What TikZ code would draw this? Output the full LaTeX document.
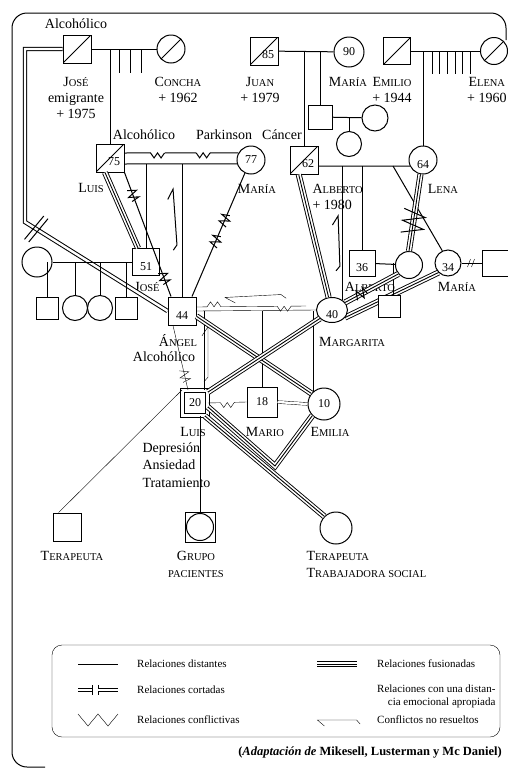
\documentclass[tikz,border=0pt]{standalone}
\usepackage{fontspec}
\setmainfont{Liberation Serif}
\usetikzlibrary{positioning, shapes.geometric, backgrounds, calc}
\newcommand{\sca}[2]{#1{\fontsize{10.5}{12}\selectfont\MakeUppercase{#2}}}
\newcommand{\numfont}{\fontsize{12}{13}\selectfont}

\begin{document}
\begin{tikzpicture}[
  x=1pt, y=-1pt, line width=1pt,
  male/.style={rectangle, draw, fill=white, minimum size=28pt, inner sep=0pt},
  female/.style={circle, draw, fill=white, minimum size=28pt, inner sep=0pt},
  dead/.style={path picture={\draw (path picture bounding box.south west)
                              -- (path picture bounding box.north east);}},
  numd/.style={label={[font=\numfont, inner sep=0pt, xshift=4pt, yshift=-4pt]center:#1}},
  numl/.style={label={[font=\numfont, inner sep=0pt, yshift=-5pt]center:#1}},
  lbl/.style={font=\fontsize{14}{16}\selectfont, align=center, inner sep=0pt},
  lgtxt/.style={font=\fontsize{11}{13}\selectfont, inner sep=0pt},
  fused/.style={line width=6pt, postaction={draw=white, line width=4.2pt},
                postaction={draw=black, line width=0.9pt}},
  apt/.style={double, double distance=2.4pt},
  zz/.pic={\fill[white] (-7,-1.3) rectangle (7,1.3);
           \draw (-7,0) -- (-3.5,5) -- (0,0) -- (3.5,5) -- (7,0);},
  zzx/.pic={\draw (-6,4) -- (-3,-5) -- (1,5) -- (4,-5) -- (6,3);},
  zzbig/.pic={\draw (-12,-11) -- (-6,11) -- (0,-11) -- (6,11) -- (12,-11);},
  cutm/.pic={\draw (-3,15) -- (1,-15) (2,15) -- (6,-15);},
  cuts/.pic={\draw (-4,4) -- (-1,-4) (0,4) -- (3,-4);},
  nores/.pic={\draw (-18,6) -- (-28,0) -- (28,0) -- (33,4);}
]
\useasboundingbox (0,0) rectangle (507,769);
%% outer frame
\draw[rounded corners=15pt] (45,767) -- (12,767) -- (12,13) -- (506,13) -- (506,40);

%% generation 1
\node[male, dead]                        (jose1)   at (77,49)  {};
\node[female, dead]                      (concha)  at (171,49) {};
\node[male, dead, numd=85]               (juan)    at (264,51) {};
\node[female, minimum size=30pt]         (maria90) at (349,52) {\numfont 90};
\node[male, dead, minimum size=27pt]     (emilio)  at (397,51) {};
\node[female, dead, minimum size=27pt]   (elena)   at (494,51) {};
\node[male, minimum size=24pt]           (tio)     at (320,117) {};
\node[female, minimum size=26pt]         (tia)     at (375,118) {};
\node[female, minimum size=25pt]         (prima)   at (349,144) {};

%% generation 2
\node[male, dead, numd=75]   (luis75)    at (110,158) {};
\node[female]                (maria77)   at (251,160) {\numfont 77};
\node[male, dead, numd=62]   (alberto62) at (304,160) {};
\node[female, numl=64]       (lena64)    at (423,160) {};

%% generation 3
\node[female, minimum size=30pt]         (esposa51)  at (37,262)  {};
\node[male, minimum size=27pt, numl=51]  (jose51)    at (146,262) {};
\node[male, minimum size=22pt]           (h1)        at (47,308)  {};
\node[female, minimum size=25pt]         (h2)        at (75,308)  {};
\node[female, minimum size=25pt]         (h3)        at (100,308) {};
\node[male, minimum size=22pt]           (h4)        at (126,308) {};
\node[male, numl=44]                     (angel44)   at (182,311) {};
\node[ellipse, draw, fill=white, minimum width=31pt, minimum height=25pt,
      inner sep=0pt, numl=40]            (margarita40) at (332,310) {};
\node[male, minimum size=26pt, numl=36]  (alberto36) at (362,263) {};
\node[female, minimum size=27pt]         (esposa36)  at (409,265) {};
\node[female, minimum size=26pt, numl=34] (maria34)  at (448,263) {};
\node[male, minimum size=26pt]           (pareja34)  at (495,263) {};
\node[male, minimum size=22pt]           (alberto_h) at (389,306) {};

%% generation 4
\node[male, double, double distance=3.4pt, minimum size=25pt] (luis20) at (195,403) {\numfont 20};
\node[male, minimum size=30pt]   (mario18)  at (262,402) {\numfont 18};
\node[female, minimum size=32pt] (emilia10) at (324,404) {\numfont 10};

%% generation 5
\node[male]                      (terap1) at (67,527) {};
\node[male, minimum size=30pt,
      path picture={\draw (path picture bounding box.center) circle (13.5pt);}] (grupo) at (200,527) {};
\node[female, minimum size=32pt] (terap2) at (336,528) {};

%% labels
\node[lbl] (alc1)        at (76,24)   {Alcohólico};
\node[lbl] (jose1_l)     at (76,98)   {\sca{J}{osé}\\emigrante\\+ 1975};
\node[lbl] (concha_l)    at (178,90)  {\sca{C}{oncha}\\+ 1962};
\node[lbl] (juan_l)      at (260,90)  {\sca{J}{uan}\\+ 1979};
\node[lbl] (maria90_l)   at (348,82)  {\sca{M}{aría}};
\node[lbl] (emilio_l)    at (392,90)  {\sca{E}{milio}\\+ 1944};
\node[lbl, anchor=east] (elena_l) at (507,90) {\sca{E}{lena}\\+ 1960};
\node[lbl] (alc2)        at (144,135) {Alcohólico};
\node[lbl] (park)        at (224,135) {Parkinson};
\node[lbl] (canc)        at (282,135) {Cáncer};
\node[lbl] (luis75_l)    at (91,188)  {\sca{L}{uis}};
\node[lbl] (maria77_l)   at (257,189) {\sca{M}{aría}};
\node[lbl, align=left, anchor=west] (alberto62_l) at (312,197) {\sca{A}{lberto}\\+ 1980};
\node[lbl] (lena_l)      at (443,189) {\sca{L}{ena}};
\node[lbl] (jose51_l)    at (147,287) {\sca{J}{osé}};
\node[lbl] (alberto36_l) at (370,287) {\sca{A}{lberto}};
\node[lbl] (maria34_l)   at (457,287) {\sca{M}{aría}};
\node[lbl] (angel_l)     at (178,341) {\sca{Á}{ngel}};
\node[lbl] (alc3)        at (164,357) {Alcohólico};
\node[lbl] (margarita_l) at (352,342) {\sca{M}{argarita}};
\node[lbl] (luis20_l)    at (193,432) {\sca{L}{uis}};
\node[lbl] (mario_l)     at (265,432) {\sca{M}{ario}};
\node[lbl] (emilia_l)    at (330,432) {\sca{E}{milia}};
\node[lbl, align=left, anchor=west, font=\fontsize{14}{17.5}\selectfont] (sintomas) at (142,465)
    {Depresión\\Ansiedad\\Tratamiento};
\node[lbl] (terap1_l)    at (72,556)  {\sca{T}{erapeuta}};
\node[lbl, font=\fontsize{14}{17}\selectfont] (grupo_l) at (196,564) {\sca{G}{rupo}\\\sca{}{pacientes}};
\node[lbl, align=left, anchor=west, font=\fontsize{14}{17}\selectfont] (terap2_l) at (306,564)
    {\sca{T}{erapeuta}\\\sca{T}{rabajadora social}};

%% generation 1 links
\draw (jose1) -- (concha);
\foreach \x in {119,130,141} \draw (\x,49) -- (\x,73);
\draw (luis75.north) -- (luis75.north |- jose1.east);
\draw (juan) -- (maria90);
\draw (alberto62.north) -- (alberto62.north |- juan.east);
\draw (tio.north) -- (tio.north |- juan.east);
\draw (tio) -- (tia);
\draw (prima.north) -- (prima.north |- tio.east);
\draw (emilio) -- (elena);
\draw (lena64.north) -- (lena64.north |- emilio.east);
\foreach \x in {432,439,447,455,462,470} \draw (\x,51) -- (\x,74);

%% Luis 75 - Maria 77
\draw ([yshift=-6pt]luis75.east) -- (maria77.195);
\draw ([yshift=5pt]luis75.east) -- (maria77.150);
\path ([yshift=5pt]luis75.east) -- (maria77.150) pic[pos=.29]{zz} pic[pos=.69]{zz};
\draw (jose51.north) -- (jose51.north |- maria77.195);
\draw (angel44.north) -- (angel44.north |- maria77.195);
\draw[fused] ([xshift=-5pt]luis75.south) -- ([xshift=-8pt]jose51.north);
\draw (luis75.south east) -- ([xshift=-11pt]angel44.north);
\path (luis75.south east) -- ([xshift=-11pt]angel44.north)
    pic[pos=.18, sloped]{zzx} pic[pos=.85, sloped]{zzx};
\draw (maria77.-115) -- ([xshift=10pt]angel44.north);
\path (maria77.-115) -- ([xshift=10pt]angel44.north)
    pic[pos=.38, sloped]{zzx} pic[pos=.55, sloped]{zzx};
\pic[rotate=-86] at (175,217) {nores};

%% Jose emigrante - Angel: cut off
\coordinate (jd_corner) at (25,222);
\draw[apt] (jose1.west) -| (jd_corner) -- (angel44.west);
\path (jd_corner) -- (angel44.west) pic[pos=.07, sloped]{cutm};

%% Jose 51 family
\draw (esposa51) -- (jose51);
\foreach \h in {h1,h2,h3,h4} \draw (\h.north) -- (\h.north |- jose51.west);

%% Alberto 62 - Lena 64
\draw ([yshift=-6pt]alberto62.east) -- (lena64.205);
\coordinate (al_m) at (393,166);
\draw (margarita40.45) -- (margarita40.45 |- lena64.205);
\draw (alberto36.north) -- (alberto36.north |- lena64.205);
\draw (maria34.115) -- (al_m);
\draw[fused] (alberto62.-110) -- (margarita40.105);
\draw[fused] (lena64.-100) -- (esposa36.north);
\path (lena64.-100) -- (esposa36.north) pic[pos=.62, sloped]{zzbig};
\pic[rotate=-88, xscale=.9] at (339,241) {nores};
\draw (alberto36) -- (esposa36);
\draw ([xshift=4pt]alberto_h.north) -- ([xshift=4pt]alberto_h.north |- alberto36.east);
\draw[fused] (margarita40.30) -- (esposa36.220);
\path (margarita40.30) -- (esposa36.220) pic[pos=.3, sloped]{zzx};
\begin{pgfonlayer}{background}
  \draw[fused] (maria34.225) -- (margarita40.-30);
\end{pgfonlayer}
\draw (maria34) -- (pareja34);
\path (maria34) -- (pareja34) pic[pos=.5]{cuts};

%% Angel 44 - Margarita 40
\draw (angel44.east) -- (margarita40.west);
\draw ([yshift=4pt]angel44.east) -- ([yshift=4pt, xshift=-10pt]margarita40.west);
\path ([yshift=4pt]angel44.east) -- ([yshift=4pt, xshift=-10pt]margarita40.west)
    pic[pos=.16, yscale=-1]{zz} pic[pos=.8]{zz};
\pic[rotate=3] at (253,296) {nores};
\draw ([xshift=9pt]luis20.north) -- ([xshift=9pt]luis20.north |- angel44.east);
\draw (mario18.north) -- (mario18.north |- angel44.east);
\draw (emilia10.132) -- (emilia10.132 |- angel44.east);
\draw ([xshift=-9pt]angel44.south) -- ([xshift=-7pt]luis20.north);
\path ([xshift=-9pt]angel44.south) -- ([xshift=-7pt]luis20.north) pic[pos=.78, sloped]{zzx};
\pic[rotate=-90, xscale=.9] at (208,352) {nores};
\draw[fused] (angel44.-20) -- (emilia10.140);
\draw[fused] (margarita40.215) -- (luis20.40);

%% Luis 20 links
\draw (luis20.east) -- (mario18.west);
\path (luis20.east) -- (mario18.west) pic[pos=.5]{zz};
\draw[apt] (mario18.east) -- (emilia10.west);
\coordinate (v_tip) at (275,466);
\draw[fused] ([yshift=-4pt]luis20.east) -- (v_tip) -- (emilia10.225);
\draw[fused] ([xshift=-3pt]luis20.south east) -- (terap2.135);
\draw (terap1.120) -- (luis20.north west);
\draw (grupo.north) -- (grupo.north |- luis20.south);

%% legend
\draw[rounded corners=10pt] (52,645) rectangle (500,737);
\node[lgtxt, anchor=west] (lg_dist)  at (137,664) {Relaciones distantes};
\node[lgtxt, anchor=west] (lg_cort)  at (137,690) {Relaciones cortadas};
\node[lgtxt, anchor=west] (lg_conf)  at (137,720) {Relaciones conflictivas};
\node[lgtxt, anchor=west] (lg_fus)   at (377,664) {Relaciones fusionadas};
\node[lgtxt, anchor=west, align=right] (lg_apt) at (377,696)
    {Relaciones con una distan-\\cia emocional apropiada};
\node[lgtxt, anchor=west] (lg_nores) at (377,720) {Conflictos no resueltos};
\draw ([xshift=-59pt]lg_dist.west) -- ([xshift=-19pt]lg_dist.west);
\draw[apt] ([xshift=-59pt]lg_cort.west) -- ([xshift=-45pt]lg_cort.west);
\draw ([xshift=-45pt, yshift=5pt]lg_cort.west) -- ([xshift=-45pt, yshift=-5pt]lg_cort.west);
\draw ([xshift=-39pt, yshift=5pt]lg_cort.west) -- ([xshift=-39pt, yshift=-5pt]lg_cort.west);
\draw[apt] ([xshift=-39pt]lg_cort.west) -- ([xshift=-19pt]lg_cort.west);
\draw ([xshift=-59pt, yshift=6pt]lg_conf.west) -- ++(10,12) -- ++(10,-12) -- ++(10,12) -- ++(10,-12);
\draw[fused] ([xshift=-60pt]lg_fus.west) -- ([xshift=-20pt]lg_fus.west);
\draw[apt] ($(lg_apt.north west)+(-60,7)$) -- ++(40,0);
\pic[xscale=.7] at ($(lg_nores.west)+(-40,0)$) {nores};
\node[anchor=east, inner sep=0pt, font=\fontsize{12.5}{15}\selectfont\bfseries] (caption) at (502,752)
    {(\textit{Adaptación de} Mikesell, Lusterman y Mc Daniel)};
\end{tikzpicture}
\end{document}
